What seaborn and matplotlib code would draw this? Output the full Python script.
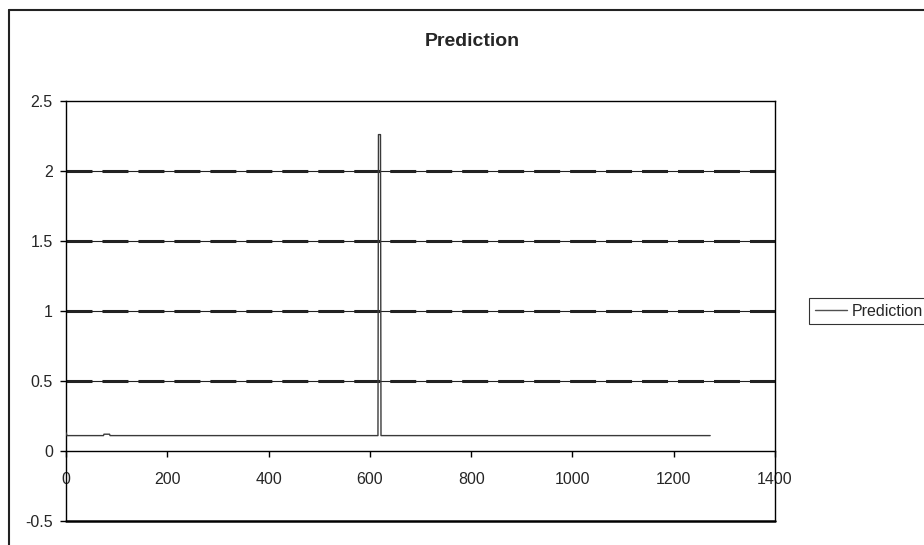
import matplotlib
matplotlib.use("Agg")
import matplotlib.pyplot as plt
import seaborn as sns
import pandas as pd
from matplotlib.lines import Line2D

# ---- data ----
x_vals = [0, 2, 74, 75, 86, 87, 616, 617, 621, 622, 1272]
y_vals = [0.13, 0.11, 0.11, 0.12, 0.12, 0.11, 0.11, 2.26, 2.26, 0.11, 0.11]
series_name = "Prediction"
x_ticks = [0, 200, 400, 600, 800, 1000, 1200, 1400]
y_ticks = [-0.5, 0, 0.5, 1, 1.5, 2, 2.5]
y_tick_labels = ["-0.5", "0", "0.5", "1", "1.5", "2", "2.5"]
grid_levels = [0.5, 1, 1.5, 2]

df = pd.DataFrame({"x": x_vals, "y": y_vals, "series": series_name})

sns.set_style("white")
plt.rcParams["font.family"] = ["Liberation Sans", "DejaVu Sans"]
plt.rcParams["lines.scale_dashes"] = False

W, H = 924, 545
fig = plt.figure(figsize=(W / 100, H / 100), dpi=100)
L, R, T, B = 66, 775, 101, 521
ax = fig.add_axes([L / W, 1 - B / H, (R - L) / W, (B - T) / H])

# gridlines: thin solid under heavy dashes
for g in grid_levels:
    ax.axhline(g, color="#222222", lw=0.8, zorder=1)
    ax.axhline(g, color="#222222", lw=2.2, linestyle=(0, (18.7, 7.2)), zorder=1)

sns.lineplot(data=df, x="x", y="y", hue="series", palette=["#3a3a3a"],
             sort=False, estimator=None, lw=1.0, ax=ax, zorder=3)

ax.set_xlim(0, 1400)
ax.set_ylim(-0.5, 2.5)
ax.set_xlabel("")
ax.set_ylabel("")

for s in ["left", "right", "top"]:
    ax.spines[s].set_visible(True)
    ax.spines[s].set_color("black")
    ax.spines[s].set_linewidth(1.0)
ax.spines["bottom"].set_position(("data", 0))
ax.spines["bottom"].set_color("black")
ax.spines["bottom"].set_linewidth(1.0)
ax.axhline(-0.5, color="black", lw=1.8, clip_on=False, zorder=5)

ax.set_xticks(x_ticks)
ax.set_xticklabels([str(t) for t in x_ticks])
ax.set_yticks(y_ticks)
ax.set_yticklabels(y_tick_labels)
ax.tick_params(axis="x", direction="out", length=4, width=1, color="black",
               labelsize=11.5, pad=11, bottom=True)
ax.tick_params(axis="y", direction="out", length=4.5, width=1, color="black",
               labelsize=11.5, pad=5, left=True)

fig.text(472 / W, 1 - 42 / H, "Prediction", ha="center", va="center",
         fontsize=14, fontweight="bold")

if ax.get_legend():
    ax.get_legend().remove()
handle = Line2D([], [], color="#505050", lw=1.0)
leg = fig.legend([handle], [series_name], loc="center left",
                 bbox_to_anchor=(809 / W, 1 - 311 / H), fontsize=11.5,
                 frameon=True, fancybox=False, handlelength=2.0,
                 handletextpad=0.3, borderpad=0.35, borderaxespad=0)
leg.get_frame().set_edgecolor("black")
leg.get_frame().set_linewidth(0.8)

# outer chart frame (extends beyond the image at right and bottom)
fig.add_artist(Line2D([9 / W, 9 / W], [0, 1 - 10 / H], transform=fig.transFigure,
                      color="#222222", lw=1.5))
fig.add_artist(Line2D([9 / W, 1], [1 - 10 / H, 1 - 10 / H], transform=fig.transFigure,
                      color="#222222", lw=1.5))

fig.savefig("out.png", dpi=100)
